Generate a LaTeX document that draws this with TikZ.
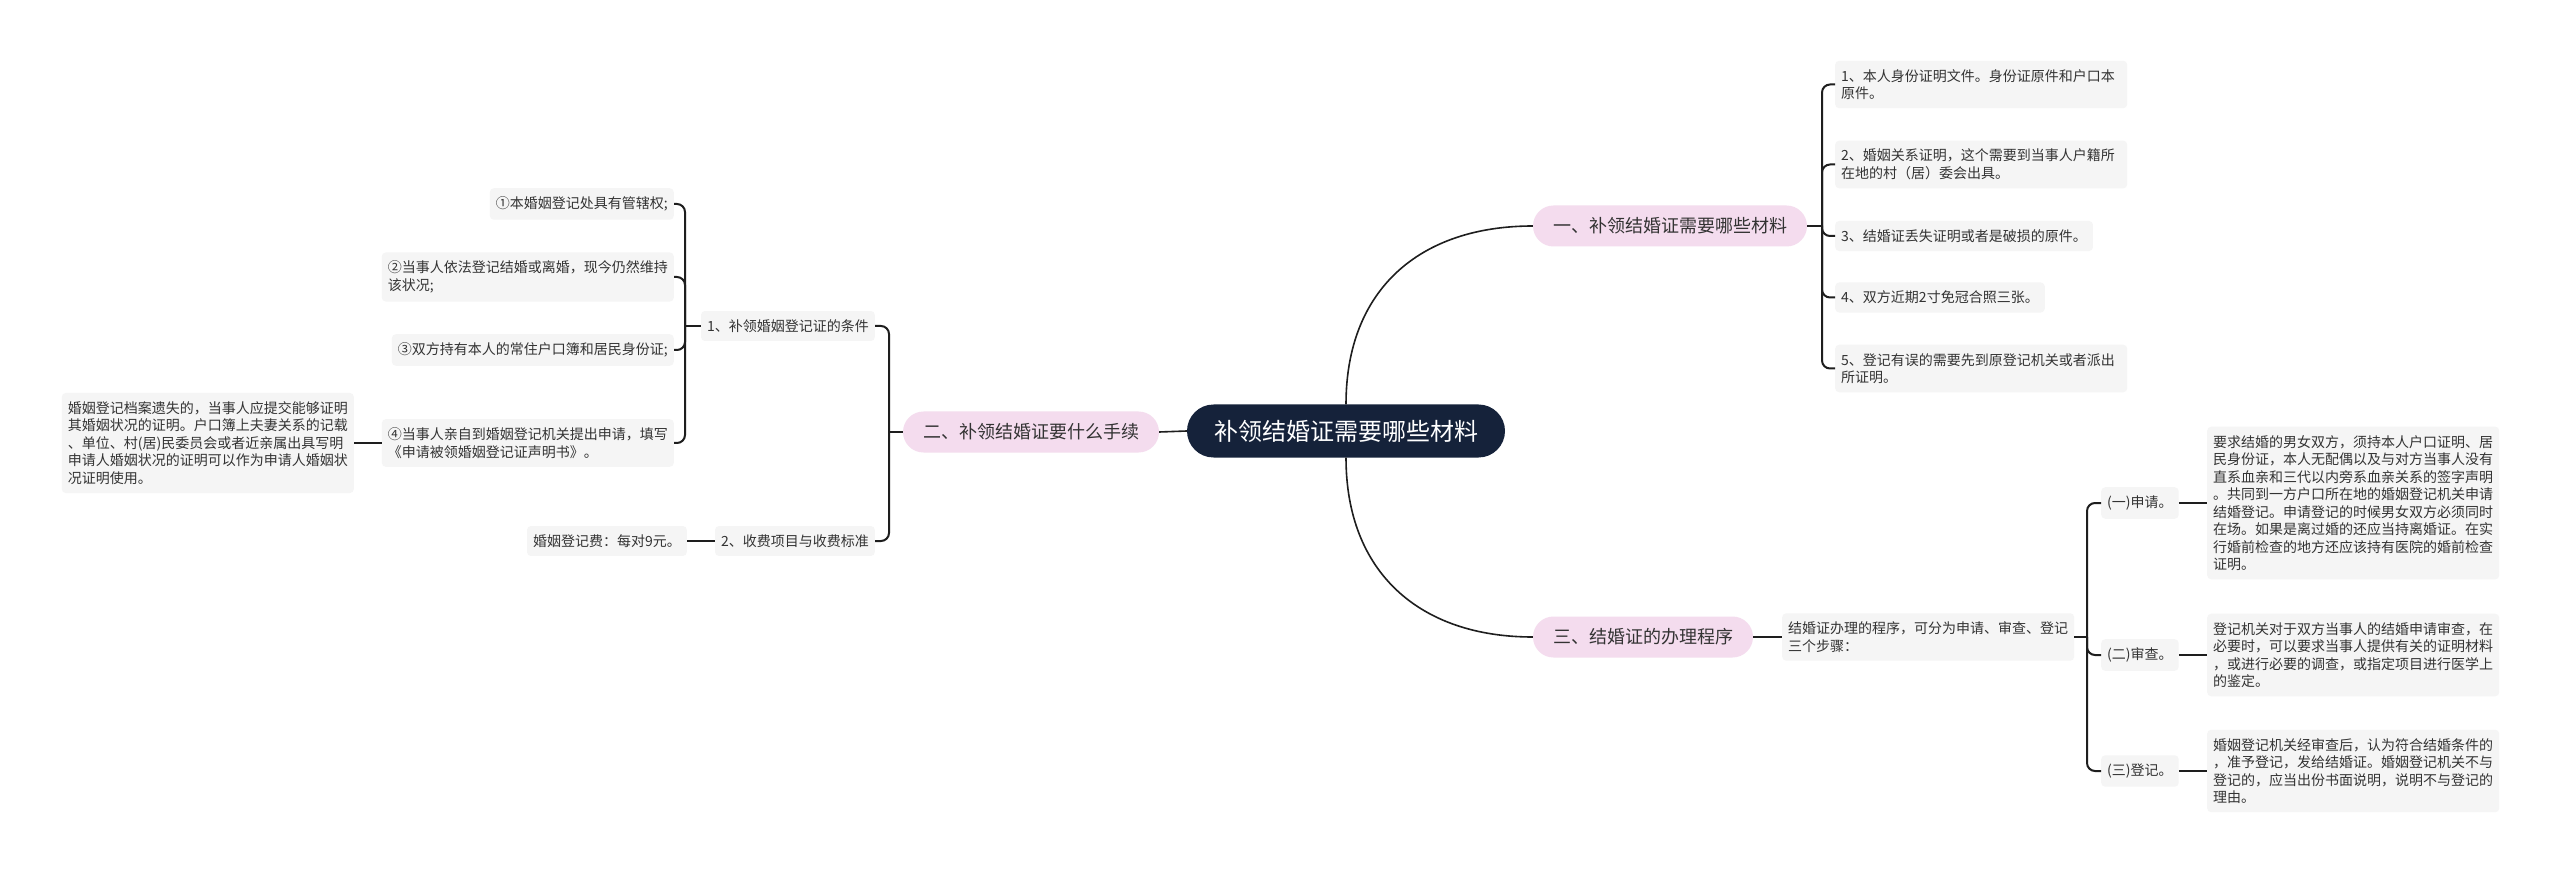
\documentclass[tikz,border=0pt]{standalone}
\usepackage{fontspec}
\newfontfamily\cjk{Noto Sans CJK SC}
\definecolor{navy}{HTML}{15223A}
\definecolor{pinkc}{HTML}{F4DCEE}
\definecolor{boxgray}{HTML}{F5F5F5}
\definecolor{txt}{HTML}{333333}
\definecolor{linec}{HTML}{1E1E1E}
\begin{document}
\begin{tikzpicture}[x=1pt,y=-1pt,
  leaf/.style={fill=boxgray, rounded corners=4pt, inner xsep=6pt, inner ysep=8.5pt, text=txt, font=\cjk\fontsize{14}{17.5}\selectfont, align=left},
  wide/.style={leaf, text width=280pt},
  topic/.style={fill=pinkc, rounded corners=20.5pt, minimum height=41pt, inner xsep=20pt, inner ysep=0pt, text=txt, font=\cjk\fontsize{18}{22}\selectfont},
  root/.style={fill=navy, rounded corners=26.5pt, minimum height=53pt, inner xsep=27pt, inner ysep=0pt, text=white, font=\cjk\fontsize{24}{28}\selectfont},
  link/.style={draw=linec, line width=1.6pt},
  brk/.style={draw=linec, line width=2pt, rounded corners=8pt}]
\useasboundingbox[fill=white] (0,0) rectangle (2560,874);

% root and main topics
\node[root] (ctr) at (1346,431) {补领结婚证需要哪些材料};
\node[topic] (t1) at (1670,226) {一、补领结婚证需要哪些材料};
\node[topic] (t2) at (1031,432) {二、补领结婚证要什么手续};
\node[topic] (t3) at (1643,637) {三、结婚证的办理程序};

\draw[link] (ctr.north) .. controls +(0,-115) and +(-113,0) .. (t1.west);
\draw[link] (ctr.south) .. controls +(0,115) and +(-113,0) .. (t3.west);
\draw[link] (ctr.west) -- (t2.east);

% branch one
\node[wide, anchor=west] (a1) at (1835,84.5) {1、本人身份证明文件。身份证原件和户口本\\原件。};
\node[wide, anchor=west] (a2) at (1835,164.5) {2、婚姻关系证明，这个需要到当事人户籍所\\在地的村（居）委会出具。};
\node[leaf, anchor=west] (a3) at (1835,236) {3、结婚证丢失证明或者是破损的原件。};
\node[leaf, anchor=west] (a4) at (1835,297.5) {4、双方近期2寸免冠合照三张。};
\node[wide, anchor=west] (a5) at (1835,368.5) {5、登记有误的需要先到原登记机关或者派出\\所证明。};
\coordinate (j1) at (1822,226);
\draw[link] (t1.east) -- (j1);
\foreach \n in {a1,a2,a3,a4,a5} \draw[brk] (j1) |- (\n.west);

% branch three
\node[wide, anchor=west] (s0) at (1782,637) {结婚证办理的程序，可分为申请、审查、登记\\三个步骤：};
\draw[link] (t3.east) -- (s0.west);
\coordinate (j3) at (2087,637);
\draw[link] (s0.east) -- (j3);
\node[leaf, anchor=west] (p1) at (2101,503) {(一)申请。};
\node[leaf, anchor=west] (p2) at (2101,655) {(二)审查。};
\node[leaf, anchor=west] (p3) at (2101,771) {(三)登记。};
\foreach \n in {p1,p2,p3} \draw[brk] (j3) |- (\n.west);
\node[wide, anchor=west] (d1) at (2207,503) {要求结婚的男女双方，须持本人户口证明、居\\民身份证，本人无配偶以及与对方当事人没有\\直系血亲和三代以内旁系血亲关系的签字声明\\。共同到一方户口所在地的婚姻登记机关申请\\结婚登记。申请登记的时候男女双方必须同时\\在场。如果是离过婚的还应当持离婚证。在实\\行婚前检查的地方还应该持有医院的婚前检查\\证明。};
\node[wide, anchor=west] (d2) at (2207,655) {登记机关对于双方当事人的结婚申请审查，在\\必要时，可以要求当事人提供有关的证明材料\\，或进行必要的调查，或指定项目进行医学上\\的鉴定。};
\node[wide, anchor=west] (d3) at (2207,771) {婚姻登记机关经审查后，认为符合结婚条件的\\，准予登记，发给结婚证。婚姻登记机关不与\\登记的，应当出份书面说明，说明不与登记的\\理由。};
\draw[link] (p1.east) -- (d1.west);
\draw[link] (p2.east) -- (d2.west);
\draw[link] (p3.east) -- (d3.west);

% branch two
\coordinate (j2) at (889,432);
\draw[link] (t2.west) -- (j2);
\node[leaf, anchor=east] (n1) at (875,326) {1、补领婚姻登记证的条件};
\node[leaf, anchor=east] (n2) at (875,541) {2、收费项目与收费标准};
\draw[brk] (j2) |- (n1.east);
\draw[brk] (j2) |- (n2.east);
\coordinate (j4) at (685,326);
\draw[link] (n1.west) -- (j4);
\node[leaf, anchor=east] (k1) at (674,204) {①本婚姻登记处具有管辖权;};
\node[wide, anchor=east] (k2) at (674,277) {②当事人依法登记结婚或离婚，现今仍然维持\\该状况;};
\node[leaf, anchor=east] (k3) at (674,350) {③双方持有本人的常住户口簿和居民身份证;};
\node[wide, anchor=east] (k4) at (674,443) {④当事人亲自到婚姻登记机关提出申请，填写\\《申请被领婚姻登记证声明书》。};
\foreach \n in {k1,k2,k3,k4} \draw[brk] (j4) |- (\n.east);
\node[wide, anchor=east] (g1) at (354,443) {婚姻登记档案遗失的，当事人应提交能够证明\\其婚姻状况的证明。户口簿上夫妻关系的记载\\、单位、村(居)民委员会或者近亲属出具写明\\申请人婚姻状况的证明可以作为申请人婚姻状\\况证明使用。};
\draw[link] (k4.west) -- (g1.east);
\node[leaf, anchor=east] (m1) at (687,541) {婚姻登记费：每对9元。};
\draw[link] (n2.west) -- (m1.east);
\end{tikzpicture}
\end{document}
